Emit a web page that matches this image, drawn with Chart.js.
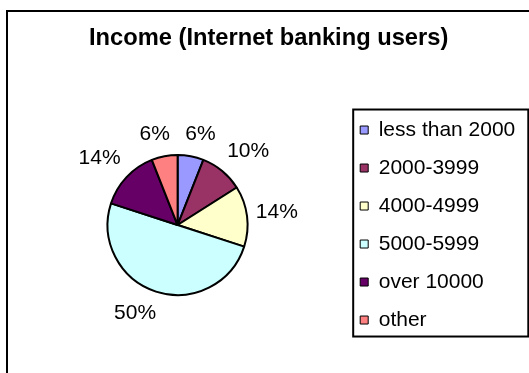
<!DOCTYPE html>
<html>
<head>
<meta charset="utf-8">
<title>Income (Internet banking users)</title>
<script src="https://cdn.jsdelivr.net/npm/chart.js@4.4.1/dist/chart.umd.min.js"></script>
<style>
  html, body { margin: 0; padding: 0; background: #fff; overflow: hidden; }
  canvas { display: block; }
</style>
</head>
<body>
<canvas id="chart" width="529" height="373"></canvas>
<script>
const categories = ['less than 2000', '2000-3999', '4000-4999', '5000-5999', 'over 10000', 'other'];
const shares = [6, 10, 14, 50, 14, 6];
const sliceColors = ['#9999FF', '#993366', '#FFFFCC', '#CCFFFF', '#660066', '#FF8080'];

const FONT = "'Liberation Sans', Arial, sans-serif";

// white page + the outer frame that runs off the right/bottom edge
const framePlugin = {
  id: 'frame',
  beforeDraw(chart) {
    const { ctx } = chart;
    ctx.save();
    ctx.fillStyle = '#fff';
    ctx.fillRect(0, 0, chart.width, chart.height);
    ctx.strokeStyle = '#000';
    ctx.lineWidth = 2;
    ctx.strokeRect(7, 11, chart.width + 20, chart.height + 20);
    ctx.restore();
  }
};

const clamp = v => Math.max(-1, Math.min(1, v));

// percentage labels outside each slice: anchor a bit past the rim on the
// mid-angle ray, then push the text box away from the pie
const pctLabels = {
  id: 'pctLabels',
  afterDatasetsDraw(chart) {
    const { ctx } = chart;
    const meta = chart.getDatasetMeta(0);
    ctx.save();
    ctx.font = '21px ' + FONT;
    ctx.fillStyle = '#000';
    ctx.textAlign = 'center';
    ctx.textBaseline = 'middle';
    meta.data.forEach((arc, i) => {
      const { x, y, startAngle, endAngle, outerRadius } = arc.getProps(['x', 'y', 'startAngle', 'endAngle', 'outerRadius'], true);
      const mid = (startAngle + endAngle) / 2;
      const ux = Math.cos(mid);
      const uy = Math.sin(mid);
      const text = shares[i] + '%';
      const w = ctx.measureText(text).width;
      const d = outerRadius + 11;
      const tx = x + ux * d + (w / 2) * 0.9 * clamp(3 * ux);
      const ty = y + uy * d + 11 * clamp(2 * uy);
      ctx.fillText(text, tx, ty);
    });
    ctx.restore();
  }
};

// box around the legend
const legendBorder = {
  id: 'legendBorder',
  afterDraw(chart) {
    const lg = chart.legend;
    const hb = lg.legendHitBoxes;
    if (!hb || !hb.length) return;
    const last = hb[hb.length - 1];
    const left = hb[0].left - 7;
    const top = hb[0].top - 10;
    const right = lg.right + 3;
    const bottom = last.top + last.height + 6;
    const { ctx } = chart;
    ctx.save();
    ctx.strokeStyle = '#000';
    ctx.lineWidth = 2;
    ctx.strokeRect(left, top, right - left, bottom - top);
    ctx.restore();
  }
};

const ctx = document.getElementById('chart').getContext('2d');

new Chart(ctx, {
  type: 'pie',
  data: {
    labels: categories,
    datasets: [{
      data: shares,
      backgroundColor: sliceColors,
      borderColor: '#000',
      borderWidth: 2,
      radius: 70
    }]
  },
  options: {
    responsive: false,
    animation: false,
    events: [],
    layout: {
      padding: { left: 12, right: 3.7, top: 0, bottom: 0 }
    },
    plugins: {
      title: {
        display: true,
        text: 'Income (Internet banking users)',
        color: '#000',
        font: { family: FONT, size: 23.7, weight: 'bold' },
        padding: { top: 24.3, bottom: 24.3 }
      },
      legend: {
        position: 'right',
        fullSize: false,
        align: 'center',
        labels: {
          color: '#000',
          font: { family: FONT, size: 21 },
          boxWidth: 8,
          boxHeight: 8,
          padding: 17,
          generateLabels(chart) {
            const items = Chart.overrides.pie.plugins.legend.labels.generateLabels(chart);
            items.forEach(it => { it.lineWidth = 1; it.strokeStyle = '#000'; });
            return items;
          }
        }
      },
      tooltip: { enabled: false }
    }
  },
  plugins: [framePlugin, pctLabels, legendBorder]
});
</script>
</body>
</html>
